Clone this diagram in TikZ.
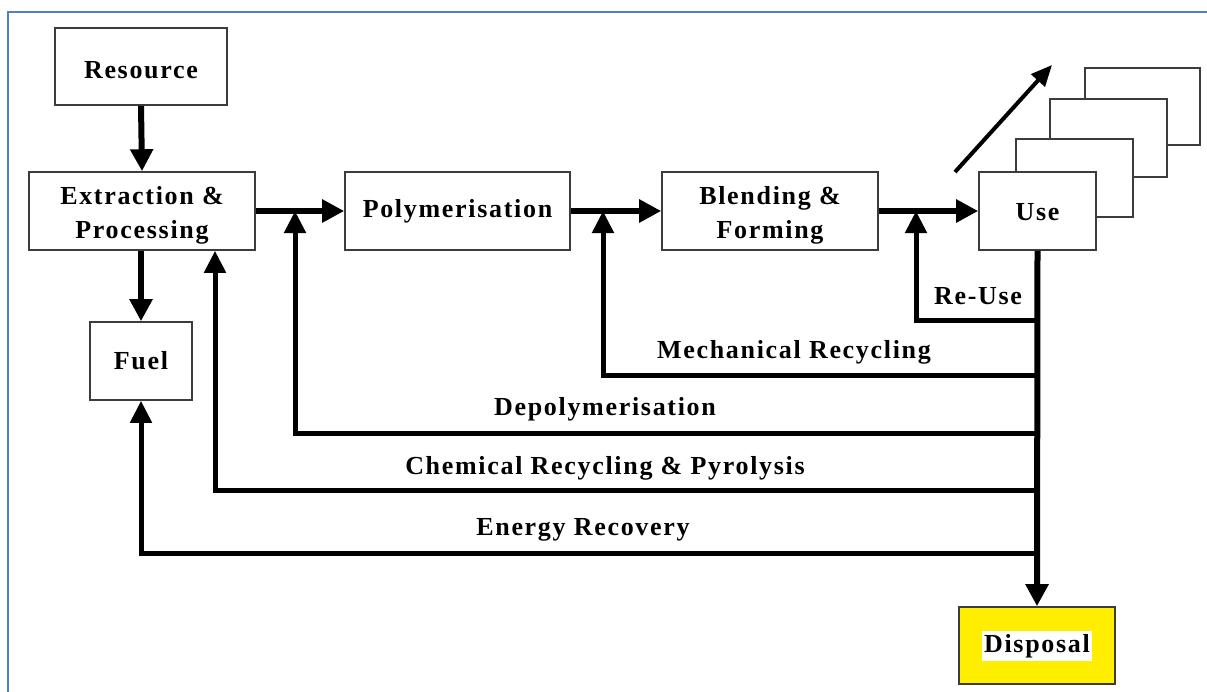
\documentclass[tikz,border=0pt]{standalone}
\usepackage{fontspec}
\setmainfont{Liberation Serif}[LetterSpace=6.5]
\usetikzlibrary{arrows.meta}
\definecolor{frameblue}{RGB}{79,129,200}
\definecolor{boxline}{RGB}{60,60,60}
\definecolor{dispyellow}{RGB}{255,238,0}
\tikzset{
  box/.style={draw=boxline, line width=1.6pt, fill=white, inner sep=0pt, align=center,
    font=\fontsize{26}{30}\selectfont\bfseries},
  flow/.style={line width=6pt, -{Triangle[length=22pt,width=22pt]}},
  back/.style={line width=5pt, -{Triangle[length=22pt,width=21pt]}},
  lbl/.style={font=\fontsize{26}{30}\selectfont\bfseries, inner sep=0pt},
}
\begin{document}
\begin{tikzpicture}[x=1pt,y=-1pt]
\useasboundingbox (0,0) rectangle (1207,691);
\draw[frameblue, line width=2pt] (8,700) -- (8,12) -- (1215,12);
% stacked boxes behind Use
\node[box, minimum width=115pt, minimum height=77pt] (s4) at (1142.5,106.5) {};
\node[box, minimum width=117pt, minimum height=78pt] (s3) at (1108.5,138) {};
\node[box, minimum width=117pt, minimum height=78pt] (s2) at (1074.5,178) {};
% main nodes
\node[box, minimum width=172pt, minimum height=77pt] (res) at (141,66.5) {\rule{0pt}{23.5pt}Resource};
\node[box, minimum width=226pt, minimum height=78pt] (ext) at (142,211) {\rule{0pt}{26pt}Extraction \&\\[4pt]Processing};
\node[box, minimum width=225pt, minimum height=78pt] (poly) at (457.5,211) {Polymerisation};
\node[box, minimum width=216pt, minimum height=78pt] (blend) at (770,211) {\rule{0pt}{26pt}Blending \&\\[4pt]Forming};
\node[box, minimum width=117pt, minimum height=78pt] (use) at (1037.5,211) {\rule{0pt}{20pt}Use};
\node[box, minimum width=102pt, minimum height=78pt] (fuel) at (141,361) {Fuel};
\node[box, fill=dispyellow, minimum width=156pt, minimum height=77pt] (disp) at (1037,645.5)
  {\setlength{\fboxsep}{2pt}\colorbox{white}{\rule[-6pt]{0pt}{26pt}Disposal}};
% diagonal arrow
\coordinate (d1) at (955,172);
\coordinate (d2) at (1052,65);
\draw[line width=4pt, -{Triangle[length=21pt,width=18pt]}] (d1) -- (d2);
% junctions
\coordinate (j1) at (295,211);
\coordinate (j2) at (603,211);
\coordinate (j3) at (916,211);
\coordinate (t1) at (1037.5,320);
\coordinate (t2) at (1037.5,375);
\coordinate (t3) at (1037.5,433);
\coordinate (t4) at (1037.5,490);
\coordinate (t5) at (1037.5,553);
% forward flow
\draw[flow] (res.south) -- (ext.north);
\draw[flow] (ext.east) -- (poly.west);
\draw[flow] (poly.east) -- (blend.west);
\draw[flow] (blend.east) -- (use.west);
\draw[flow] (ext.south -| fuel.north) -- (fuel.north);
\draw[flow] (use.south) -- (disp.north);
% return loops
\draw[back] (t1) -- (t1 -| j3) -- (j3);
\draw[back] (t2) -- (t2 -| j2) -- (j2);
\draw[back] (t3) -- (t3 -| j1) -- (j1);
\draw[back] (t4) -- (215,490) -- (ext.south -| 215,0);
\draw[back] (t5) -- (t5 -| fuel.south) -- (fuel.south);
% labels
\node[lbl] (lr) at (978,296) {Re-Use};
\node[lbl] (lm) at (794,352) {Mechanical Recycling};
\node[lbl] (ld) at (605,409) {Depolymerisation};
\node[lbl] (lc) at (605,468) {Chemical Recycling \& Pyrolysis};
\node[lbl] (le) at (583,530) {Energy Recovery};
\end{tikzpicture}
\end{document}
